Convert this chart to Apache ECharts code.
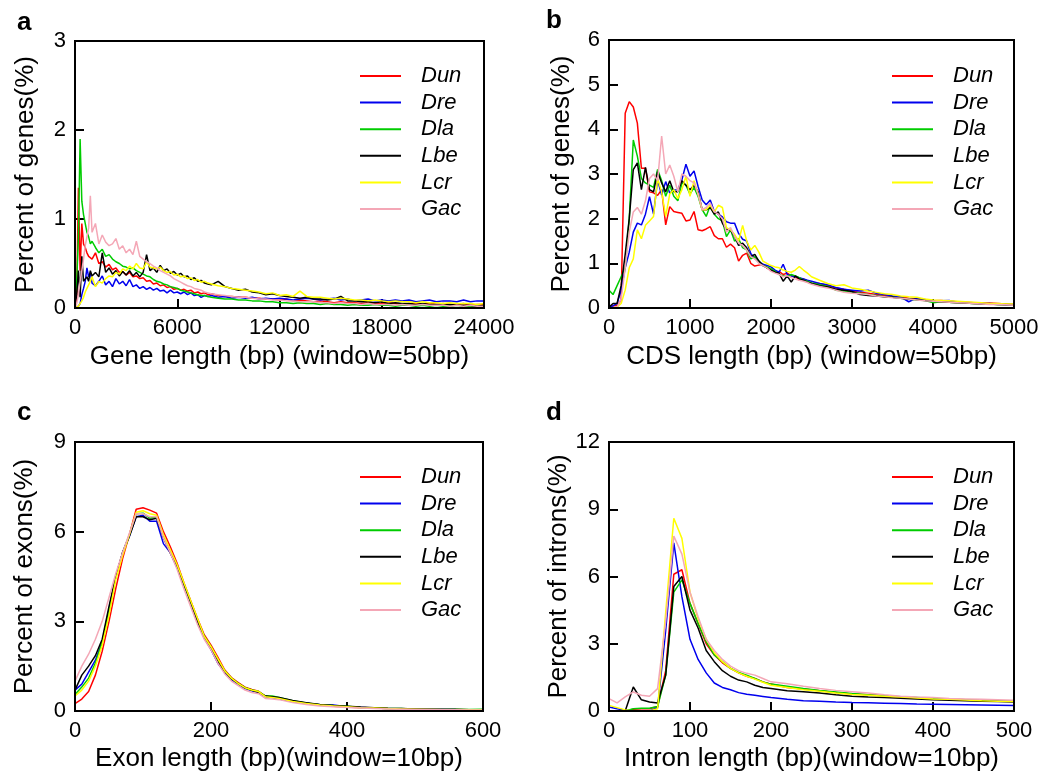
<!DOCTYPE html>
<html>
<head>
  <meta charset="UTF-8">
  <title>Gene structure length distributions</title>
  <script src="https://cdn.jsdelivr.net/npm/echarts@6/dist/echarts.min.js"></script>
  <style>
    html, body { margin: 0; padding: 0; background: #fff; }
    #chart { width: 1048px; height: 774px; }
  </style>
</head>
<body>
  <div id="chart"></div>
  <script>
    const species = ['Dun', 'Dre', 'Dla', 'Lbe', 'Lcr', 'Gac'];
    const colors = ['#ff0000', '#0000ee', '#00cc00', '#000000', '#ffff00', '#f4a7b6'];

    // a: gene length (bp)
    const xGene = [0,100,200,300,400,500,600,700,800,900,1000,
      1200,1400,1600,1800,2000,2200,2400,2600,2800,3000,3200,3400,3600,3800,4000,4200,4400,4600,4800,5000,5200,5400,5600,5800,6000,6200,6400,6600,6800,7000,7200,7400,7600,7800,8000,
      8400,8800,9200,9600,10000,10400,10800,11200,11600,12000,12400,12800,13200,13600,14000,14400,14800,15200,15600,16000,16400,16800,17200,17600,18000,18400,18800,19200,19600,20000,20400,20800,21200,21600,22000,22400,22800,23200,23600,24000];
    const geneDun = [0.02,0.1,1.35,0.42,0.95,0.72,0.68,0.62,0.58,0.6,0.55,
      0.62,0.5,0.52,0.46,0.49,0.43,0.45,0.4,0.41,0.37,0.4,0.35,0.36,0.33,0.34,0.3,0.31,0.27,0.28,0.25,0.26,0.23,0.24,0.21,0.22,0.2,0.21,0.19,0.2,0.17,0.18,0.16,0.17,0.15,0.16,
      0.14,0.13,0.13,0.12,0.12,0.11,0.11,0.1,0.1,0.09,0.1,0.08,0.09,0.08,0.07,0.08,0.07,0.06,0.07,0.06,0.06,0.05,0.06,0.05,0.05,0.06,0.05,0.04,0.05,0.05,0.04,0.06,0.04,0.05,0.04,0.04,0.05,0.03,0.04,0.04];
    const geneDre = [0,0,0.02,0.05,0.15,0.22,0.3,0.45,0.35,0.4,0.28,
      0.25,0.3,0.36,0.26,0.3,0.24,0.33,0.27,0.3,0.25,0.32,0.24,0.26,0.22,0.24,0.21,0.23,0.2,0.22,0.19,0.2,0.17,0.2,0.17,0.18,0.16,0.18,0.15,0.17,0.14,0.15,0.12,0.14,0.13,0.14,
      0.12,0.13,0.11,0.12,0.11,0.12,0.1,0.11,0.1,0.11,0.1,0.09,0.1,0.11,0.1,0.09,0.1,0.11,0.09,0.1,0.08,0.09,0.1,0.08,0.09,0.08,0.09,0.08,0.09,0.07,0.08,0.09,0.07,0.08,0.08,0.07,0.09,0.07,0.08,0.08];
    const geneDla = [0.05,0.3,0.8,1.9,1.2,1.05,0.95,0.85,0.8,0.72,0.75,
      0.68,0.62,0.66,0.58,0.6,0.55,0.52,0.5,0.47,0.46,0.44,0.45,0.42,0.4,0.38,0.36,0.35,0.32,0.3,0.29,0.27,0.26,0.24,0.23,0.22,0.2,0.19,0.18,0.17,0.16,0.15,0.14,0.14,0.13,0.12,
      0.11,0.1,0.1,0.09,0.09,0.08,0.08,0.07,0.07,0.06,0.06,0.05,0.06,0.05,0.05,0.04,0.05,0.04,0.04,0.03,0.04,0.03,0.03,0.04,0.03,0.03,0.02,0.03,0.03,0.02,0.03,0.02,0.03,0.02,0.02,0.03,0.02,0.02,0.02,0.02];
    const geneLbe = [0.02,0.15,0.42,0.12,0.58,0.3,0.28,0.35,0.3,0.42,0.36,
      0.4,0.35,0.62,0.4,0.45,0.38,0.42,0.36,0.41,0.37,0.42,0.36,0.4,0.35,0.4,0.6,0.42,0.45,0.4,0.48,0.42,0.44,0.39,0.41,0.37,0.39,0.35,0.36,0.32,0.34,0.3,0.31,0.28,0.27,0.26,
      0.3,0.24,0.22,0.2,0.21,0.18,0.17,0.15,0.16,0.14,0.13,0.12,0.11,0.12,0.1,0.1,0.09,0.1,0.13,0.08,0.08,0.07,0.07,0.06,0.07,0.05,0.06,0.05,0.05,0.04,0.05,0.04,0.04,0.03,0.04,0.03,0.03,0.03,0.02,0.03];
    const geneLcr = [0,0,0.02,0.05,0.08,0.12,0.18,0.22,0.26,0.3,0.35,
      0.24,0.3,0.28,0.33,0.36,0.35,0.4,0.38,0.44,0.42,0.47,0.44,0.5,0.45,0.44,0.52,0.46,0.45,0.44,0.46,0.42,0.4,0.41,0.37,0.38,0.35,0.36,0.33,0.34,0.31,0.32,0.29,0.3,0.28,0.27,
      0.25,0.24,0.22,0.21,0.2,0.19,0.18,0.16,0.17,0.14,0.15,0.13,0.19,0.13,0.12,0.12,0.11,0.1,0.11,0.1,0.09,0.09,0.08,0.09,0.08,0.07,0.08,0.07,0.07,0.06,0.07,0.06,0.06,0.05,0.06,0.05,0.05,0.05,0.04,0.05];
    const geneGac = [0,0.05,0.15,0.3,0.42,0.55,0.7,0.8,0.9,1.26,0.85,
      0.95,0.72,0.82,0.74,0.7,0.72,0.78,0.66,0.7,0.62,0.66,0.6,0.75,0.58,0.55,0.52,0.5,0.47,0.45,0.42,0.4,0.38,0.36,0.33,0.31,0.29,0.27,0.25,0.24,0.22,0.21,0.2,0.18,0.17,0.16,
      0.15,0.14,0.13,0.12,0.12,0.11,0.1,0.1,0.09,0.09,0.08,0.08,0.07,0.07,0.07,0.06,0.06,0.05,0.06,0.05,0.05,0.04,0.05,0.04,0.04,0.04,0.03,0.04,0.03,0.03,0.04,0.03,0.03,0.03,0.02,0.03,0.02,0.03,0.02,0.02];

    // b: CDS length (bp)
    const xCds = [0,50,100,150,200,250,300,350,400,450,500,550,600,650,700,750,800,850,900,950,1000,1050,1100,1150,1200,1250,1300,1350,1400,1450,1500,1550,1600,1650,1700,1750,1800,1850,1900,1950,2000,2050,2100,2150,2200,2250,2300,2350,2400,2450,2500,
      2600,2700,2800,2900,3000,3100,3200,3300,3400,3500,3600,3700,3800,3900,4000,4100,4200,4300,4400,4500,4600,4700,4800,4900,5000];
    const cdsDun = [0.02,0.05,0.05,0.18,4.36,4.62,4.5,4.14,3.13,3.13,2.6,2.58,2.52,2.65,1.86,2.27,2.16,2.14,2.12,1.95,1.97,2.16,1.75,1.73,1.77,1.82,1.62,1.55,1.55,1.36,1.43,1.35,1.05,1.18,1.23,1.0,0.94,0.96,0.98,0.9,0.84,0.8,0.82,0.75,0.78,0.72,0.7,0.62,0.65,0.6,0.55,
      0.55,0.5,0.45,0.42,0.38,0.35,0.33,0.3,0.28,0.26,0.25,0.22,0.2,0.19,0.16,0.17,0.15,0.14,0.13,0.12,0.11,0.11,0.1,0.09,0.08];
    const cdsDre = [0.02,0.05,0.1,0.4,0.9,1.25,1.7,1.9,1.86,2.1,2.49,2.1,2.87,2.53,2.83,2.57,2.64,2.65,2.87,3.22,2.95,3.07,2.72,2.42,2.31,2.42,2.16,2.1,2.04,1.93,1.9,1.9,1.67,1.54,1.5,1.22,1.11,1.04,0.98,0.95,0.92,0.85,0.8,0.98,0.75,0.72,0.7,0.68,0.65,0.62,0.6,
      0.55,0.52,0.46,0.42,0.4,0.38,0.4,0.33,0.3,0.27,0.25,0.14,0.22,0.18,0.15,0.16,0.17,0.13,0.12,0.11,0.1,0.1,0.09,0.08,0.08];
    const cdsDla = [0.4,0.3,0.5,0.7,0.9,2.0,3.76,3.4,2.9,2.8,2.75,2.7,3.1,2.85,2.5,2.75,2.5,2.4,2.8,2.75,2.55,2.7,2.5,2.2,2.05,2.3,2.1,2.0,1.95,1.6,1.75,1.5,1.55,1.35,1.3,1.1,1.15,1.05,0.95,0.92,0.88,0.82,0.75,0.72,0.7,0.75,0.72,0.68,0.62,0.6,0.56,
      0.52,0.48,0.4,0.38,0.35,0.33,0.3,0.28,0.25,0.24,0.22,0.2,0.18,0.17,0.12,0.14,0.13,0.12,0.11,0.1,0.1,0.09,0.08,0.08,0.07];
    const cdsLbe = [0.02,0.1,0.1,0.5,1.2,2.0,3.1,3.25,2.65,3.15,2.65,2.6,3.05,2.8,2.6,2.85,2.6,2.6,2.85,2.75,2.65,2.75,2.6,2.2,2.2,2.25,2.1,2.15,1.9,1.75,1.75,1.6,1.4,1.45,1.35,1.15,1.2,1.05,0.95,0.9,0.85,0.8,0.78,0.6,0.72,0.58,0.72,0.65,0.62,0.58,0.55,
      0.5,0.47,0.42,0.4,0.37,0.3,0.28,0.27,0.25,0.24,0.22,0.2,0.19,0.17,0.15,0.14,0.13,0.12,0.11,0.1,0.09,0.09,0.08,0.07,0.07];
    const cdsLcr = [0,0,0.02,0.1,0.4,0.9,1.1,1.75,1.55,1.85,1.95,2.05,2.9,2.6,2.05,2.55,2.65,2.45,2.65,2.95,2.5,2.85,2.55,2.2,2.2,2.3,2.15,2.3,2.25,1.8,1.75,1.65,1.5,1.85,1.5,1.3,1.4,1.25,1.05,1.0,0.95,0.92,0.9,0.85,0.82,0.8,0.85,0.93,0.85,0.78,0.7,
      0.62,0.55,0.5,0.52,0.45,0.42,0.38,0.35,0.32,0.3,0.27,0.25,0.24,0.2,0.18,0.17,0.16,0.15,0.14,0.13,0.12,0.1,0.1,0.09,0.09];
    const cdsGac = [0,0,0.02,0.2,0.9,1.7,2.15,2.25,2.1,2.4,2.9,3.0,2.85,3.85,3.0,3.2,2.95,2.6,3.0,2.95,2.85,2.8,2.55,2.2,2.25,2.35,2.15,2.1,2.0,1.7,1.8,1.6,1.45,1.4,1.3,1.15,1.1,1.0,0.95,0.9,0.82,0.78,0.75,0.7,0.72,0.68,0.65,0.62,0.6,0.57,0.53,
      0.48,0.45,0.4,0.35,0.33,0.32,0.3,0.27,0.25,0.23,0.22,0.2,0.18,0.16,0.15,0.14,0.13,0.12,0.11,0.1,0.09,0.08,0.08,0.07,0.06];

    // c: exon length (bp)
    const xExon = [0,10,20,30,40,50,60,70,80,90,100,110,120,130,140,150,160,170,180,190,200,210,220,230,240,250,260,270,280,290,300,
      320,340,360,380,400,420,440,460,480,500,520,540,560,580,600];
    const exonDun = [0.25,0.4,0.65,1.2,2.0,3.0,4.1,5.1,5.9,6.75,6.8,6.72,6.62,6.0,5.5,4.95,4.3,3.7,3.1,2.55,2.2,1.8,1.38,1.12,0.95,0.8,0.72,0.66,0.5,0.46,0.42,
      0.33,0.26,0.2,0.16,0.13,0.11,0.1,0.08,0.07,0.06,0.06,0.05,0.05,0.04,0.04];
    const exonDre = [0.7,0.9,1.3,1.7,2.3,3.4,4.5,5.3,5.85,6.5,6.55,6.35,6.35,5.6,5.3,4.8,4.25,3.65,3.0,2.45,2.05,1.6,1.3,1.05,0.9,0.75,0.68,0.62,0.48,0.45,0.4,
      0.32,0.26,0.21,0.2,0.14,0.12,0.1,0.08,0.07,0.06,0.06,0.07,0.05,0.04,0.04];
    const exonDla = [0.55,0.8,1.1,1.6,2.3,3.3,4.5,5.3,5.9,6.6,6.62,6.45,6.5,5.85,5.35,4.85,4.25,3.65,3.05,2.5,2.15,1.7,1.35,1.1,0.92,0.78,0.7,0.65,0.5,0.5,0.45,
      0.34,0.27,0.21,0.18,0.16,0.12,0.1,0.08,0.08,0.06,0.06,0.05,0.06,0.05,0.06];
    const exonLbe = [0.7,1.2,1.5,1.85,2.4,3.5,4.5,5.3,5.85,6.5,6.5,6.4,6.45,5.8,5.3,4.85,4.25,3.65,3.0,2.5,2.1,1.65,1.32,1.08,0.92,0.78,0.7,0.62,0.5,0.48,0.45,
      0.35,0.28,0.22,0.18,0.16,0.13,0.11,0.09,0.08,0.07,0.06,0.05,0.05,0.04,0.04];
    const exonLcr = [0.5,0.7,1.0,1.5,2.2,3.2,4.4,5.2,5.9,6.65,6.7,6.6,6.55,5.9,5.4,4.9,4.3,3.7,3.1,2.5,2.15,1.75,1.35,1.1,0.92,0.78,0.7,0.65,0.48,0.45,0.42,
      0.32,0.25,0.2,0.17,0.14,0.11,0.1,0.08,0.07,0.06,0.05,0.05,0.04,0.04,0.04];
    const exonGac = [1.0,1.5,1.9,2.4,3.0,3.8,4.6,5.3,5.95,6.6,6.6,6.5,6.5,5.8,5.3,4.75,4.1,3.5,2.9,2.4,2.05,1.6,1.25,1.0,0.85,0.7,0.62,0.58,0.42,0.4,0.38,
      0.28,0.22,0.17,0.14,0.12,0.1,0.08,0.07,0.06,0.05,0.05,0.04,0.04,0.03,0.03];

    // d: intron length (bp)
    const xIntron = [0,10,20,30,40,50,60,70,80,90,100,110,120,130,140,150,160,170,180,190,200,
      220,240,260,280,300,320,340,360,380,400,420,440,460,480,500];
    const intronDun = [0,0,0,0.08,0.1,0.1,0.2,1.8,6.1,6.3,4.8,3.9,3.0,2.5,2.15,1.9,1.7,1.55,1.45,1.3,1.2,
      1.05,0.98,0.9,0.82,0.76,0.72,0.68,0.62,0.58,0.55,0.52,0.5,0.48,0.45,0.44];
    const intronDre = [0.18,0.1,0.03,0,0,0,0.15,3.6,7.5,5.1,3.2,2.3,1.7,1.25,1.05,0.95,0.82,0.75,0.7,0.65,0.6,
      0.52,0.46,0.43,0.4,0.38,0.37,0.35,0.33,0.31,0.3,0.29,0.28,0.27,0.26,0.25];
    const intronDla = [0,0,0,0.1,0.12,0.12,0.2,1.6,5.3,5.85,4.8,3.9,3.1,2.5,2.2,1.9,1.72,1.6,1.45,1.3,1.2,
      1.1,1.0,0.92,0.85,0.78,0.72,0.68,0.64,0.6,0.56,0.52,0.5,0.47,0.45,0.43];
    const intronLbe = [0,0,0,1.07,0.5,0.4,0.36,1.6,5.55,6.0,4.5,3.7,2.7,2.2,1.8,1.55,1.38,1.3,1.15,1.05,1.0,
      0.9,0.86,0.8,0.72,0.66,0.62,0.6,0.57,0.53,0.5,0.48,0.46,0.44,0.42,0.4];
    const intronLcr = [0.25,0.15,0.05,0,0,0,0.1,4.4,8.6,7.7,5.3,4.1,3.2,2.6,2.2,1.9,1.7,1.55,1.42,1.28,1.15,
      1.05,0.95,0.88,0.8,0.74,0.7,0.66,0.62,0.58,0.54,0.52,0.49,0.46,0.44,0.42];
    const intronGac = [0.55,0.36,0.63,0.85,0.7,0.66,1.0,4.0,7.8,7.0,5.3,4.2,3.2,2.7,2.3,2.0,1.8,1.68,1.6,1.45,1.3,
      1.22,1.1,1.0,0.92,0.86,0.8,0.72,0.66,0.62,0.6,0.56,0.54,0.52,0.5,0.48];

    const panels = [
      { letter: 'a', x: xGene, ys: [geneDun, geneDre, geneDla, geneLbe, geneLcr, geneGac],
        xMax: 24000, xStep: 6000, yMax: 3, yStep: 1,
        xName: 'Gene length (bp) (window=50bp)', yName: 'Percent of genes(%)' },
      { letter: 'b', x: xCds, ys: [cdsDun, cdsDre, cdsDla, cdsLbe, cdsLcr, cdsGac],
        xMax: 5000, xStep: 1000, yMax: 6, yStep: 1,
        xName: 'CDS length (bp) (window=50bp)', yName: 'Percent of genes(%)' },
      { letter: 'c', x: xExon, ys: [exonDun, exonDre, exonDla, exonLbe, exonLcr, exonGac],
        xMax: 600, xStep: 200, yMax: 9, yStep: 3,
        xName: 'Exon length (bp)(window=10bp)', yName: 'Percent of exons(%)' },
      { letter: 'd', x: xIntron, ys: [intronDun, intronDre, intronDla, intronLbe, intronLcr, intronGac],
        xMax: 500, xStep: 100, yMax: 12, yStep: 3,
        xName: 'Intron length (bp)(window=10bp)', yName: 'Percent of introns(%)' }
    ];

    // pixel boxes of the four plots
    const boxes = [
      { left: 75, top: 41, width: 409, height: 267 },
      { left: 609, top: 40, width: 405, height: 268 },
      { left: 75, top: 442, width: 408, height: 269 },
      { left: 609, top: 442, width: 405, height: 269 }
    ];
    const legendPos = [[360, 65], [892, 65], [360, 466], [892, 466]];
    const letterPos = [[17, 10], [546, 8], [17, 400], [546, 400]];
    const xNameGap = [36, 36, 35, 35];
    const yNameGap = [36, 34, 37, 36];

    const font = 'Liberation Sans, Arial, sans-serif';
    function lineOpt() {
      return { show: true, onZero: false, lineStyle: { color: '#000', width: 2 } };
    }
    function tickOpt() {
      return { show: true, inside: true, length: 9, lineStyle: { color: '#000', width: 2 } };
    }

    const grid = [], xAxis = [], yAxis = [], legend = [], series = [], graphic = [];
    panels.forEach((p, k) => {
      grid.push(Object.assign({ containLabel: false, outerBoundsMode: 'none' }, boxes[k]));
      xAxis.push({
        type: 'value', gridIndex: k, min: 0, max: p.xMax, interval: p.xStep,
        name: p.xName, nameLocation: 'middle', nameGap: xNameGap[k],
        nameTextStyle: { color: '#000', fontSize: 26, fontFamily: font },
        axisLine: lineOpt(), axisTick: tickOpt(), splitLine: { show: false },
        axisLabel: { color: '#000', fontSize: 22, fontFamily: font, margin: 9, formatter: v => String(v) }
      });
      yAxis.push({
        type: 'value', gridIndex: k, min: 0, max: p.yMax, interval: p.yStep,
        name: p.yName, nameLocation: 'middle', nameGap: yNameGap[k],
        nameTextStyle: { color: '#000', fontSize: 26, fontFamily: font },
        axisLine: lineOpt(), axisTick: tickOpt(), splitLine: { show: false },
        axisLabel: { color: '#000', fontSize: 22, fontFamily: font, margin: 9, formatter: v => String(v) }
      });
      legend.push({
        data: species, orient: 'vertical', left: legendPos[k][0], top: legendPos[k][1],
        icon: 'rect', itemWidth: 41, itemHeight: 2, itemGap: 4.6, padding: 0,
        selectedMode: false,
        textStyle: { color: '#000', fontSize: 22, fontStyle: 'italic', fontFamily: font,
          lineHeight: 22, padding: [0, 0, 0, 15] }
      });
      species.forEach((s, i) => {
        series.push({
          name: s, type: 'line', xAxisIndex: k, yAxisIndex: k,
          data: p.x.map((x, j) => [x, p.ys[i][j]]),
          showSymbol: false, symbol: 'none', color: colors[i],
          lineStyle: { width: 1.5, color: colors[i] }
        });
      });
      // plot frame
      graphic.push({
        type: 'rect', z: 100, silent: true,
        shape: { x: boxes[k].left, y: boxes[k].top, width: boxes[k].width, height: boxes[k].height },
        style: { fill: 'none', stroke: '#000', lineWidth: 2 }
      });
      graphic.push({
        type: 'text', left: letterPos[k][0], top: letterPos[k][1],
        style: { text: p.letter, font: 'bold 26px ' + font, fill: '#000' }
      });
    });

    const chart = echarts.init(document.getElementById('chart'));
    chart.setOption({
      animation: false,
      backgroundColor: '#fff',
      grid, xAxis, yAxis, legend, series, graphic
    });
  </script>
</body>
</html>
